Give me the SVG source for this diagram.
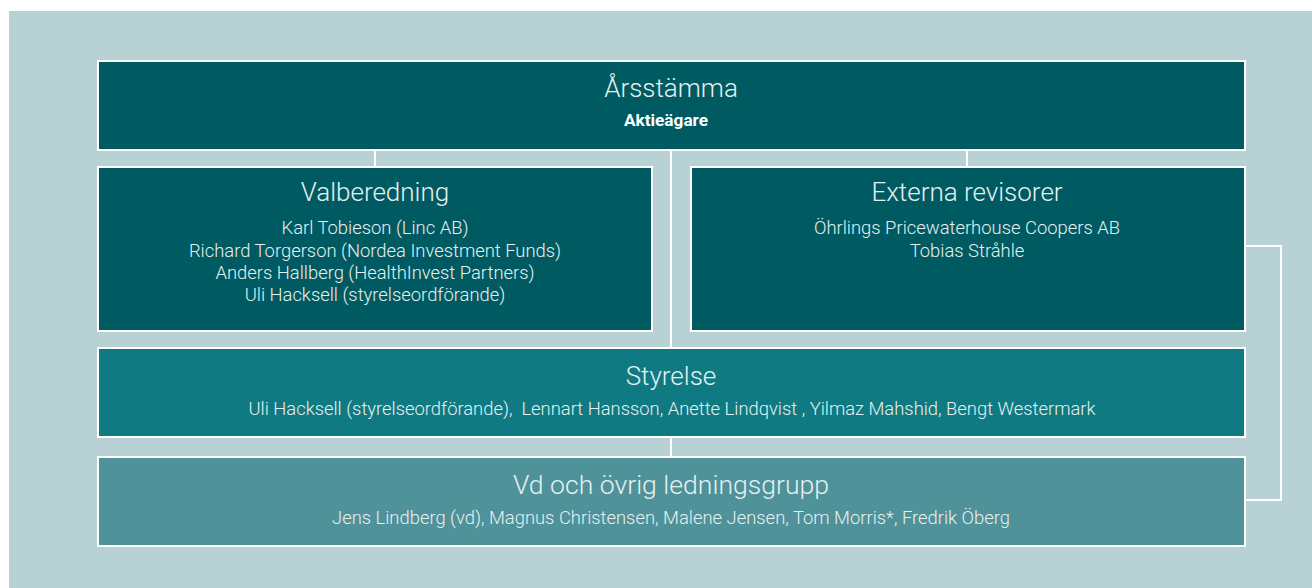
<svg xmlns="http://www.w3.org/2000/svg" width="1312" height="588" viewBox="0 0 1312 588">
<style>
.box{stroke:#ffffff;stroke-width:2}
.dark{fill:#005a61}
.mid{fill:#0f7a82}
.light{fill:#4f9299}
.conn{stroke:#ffffff;stroke-width:2;fill:none}
.t{font-family:Roboto,"Liberation Sans",sans-serif;font-weight:300;fill:#e6f0f1;text-anchor:middle}
.h{font-size:26px}
.s{font-size:18.4px}
.b{font-family:Roboto,"Liberation Sans",sans-serif;font-weight:700;font-size:17.2px;fill:#ffffff;text-anchor:middle}
</style>
<rect x="9" y="11" width="1303" height="577" fill="#b8d1d4"/>
<g id="connectors">
<line class="conn" x1="375" y1="150" x2="375" y2="167"/>
<line class="conn" x1="671" y1="150" x2="671" y2="348"/>
<line class="conn" x1="967" y1="150" x2="967" y2="167"/>
<line class="conn" x1="671" y1="437" x2="671" y2="457"/>
<polyline class="conn" points="1245,246 1281,246 1281,500 1245,500"/>
</g>
<g id="arsstamma">
<rect class="box dark" x="98" y="61" width="1147" height="89"/>
<text class="t h" x="671" y="97">Årsstämma</text>
<text class="b" x="666" y="126">Aktieägare</text>
</g>
<g id="valberedning">
<rect class="box dark" x="98" y="167" width="554" height="164"/>
<text class="t h" x="375" y="201">Valberedning</text>
<text class="t s" x="375" y="234">Karl Tobieson (Linc AB)</text>
<text class="t s" x="375" y="257">Richard Torgerson (Nordea Investment Funds)</text>
<text class="t s" x="375" y="279">Anders Hallberg (HealthInvest Partners)</text>
<text class="t s" x="375" y="301">Uli Hacksell (styrelseordförande)</text>
</g>
<g id="externa">
<rect class="box dark" x="691" y="167" width="554" height="164"/>
<text class="t h" x="967" y="201">Externa revisorer</text>
<text class="t s" x="967" y="234">Öhrlings Pricewaterhouse Coopers AB</text>
<text class="t s" x="967" y="257">Tobias Stråhle</text>
</g>
<g id="styrelse">
<rect class="box mid" x="98" y="348" width="1147" height="89"/>
<text class="t h" x="671" y="385">Styrelse</text>
<text class="t s" x="672" y="415" textLength="847" lengthAdjust="spacingAndGlyphs" xml:space="preserve">Uli Hacksell (styrelseordförande),  Lennart Hansson, Anette Lindqvist , Yilmaz Mahshid, Bengt Westermark</text>
</g>
<g id="vd">
<rect class="box light" x="98" y="457" width="1147" height="89"/>
<text class="t h" x="671" y="494" textLength="316" lengthAdjust="spacingAndGlyphs">Vd och övrig ledningsgrupp</text>
<text class="t s" x="671" y="524" textLength="678" lengthAdjust="spacingAndGlyphs">Jens Lindberg (vd), Magnus Christensen, Malene Jensen, Tom Morris*, Fredrik Öberg</text>
</g>
</svg>
